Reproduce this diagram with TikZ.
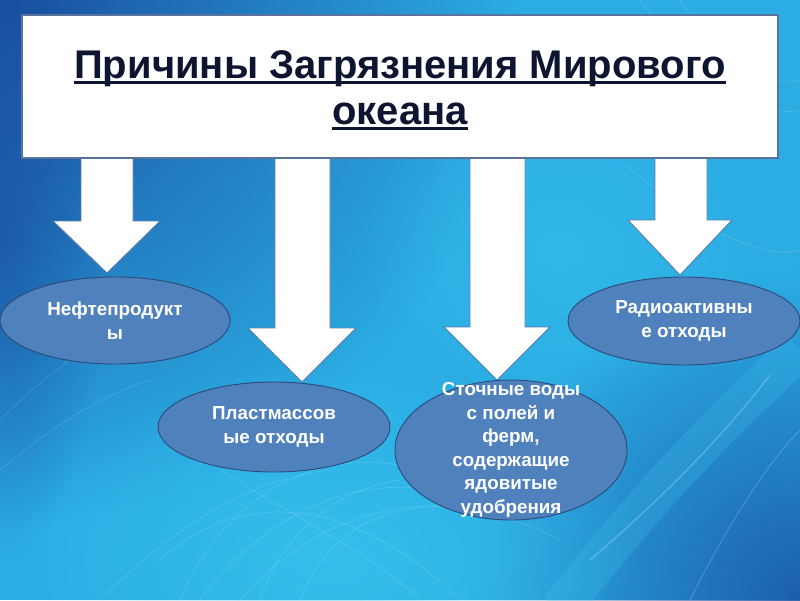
\documentclass[tikz,border=0pt]{standalone}
\usepackage{fontspec}
\setmainfont{Liberation Sans}
\usetikzlibrary{shapes.geometric,fadings}
\definecolor{bgbase}{HTML}{2BADE4}
\definecolor{bgdark}{HTML}{1A4E9F}
\definecolor{bgdark2}{HTML}{1B56A6}
\definecolor{bglight}{HTML}{3CCAF2}
\definecolor{ellfill}{HTML}{4F81BD}
\definecolor{elldraw}{HTML}{2C4A78}
\definecolor{arrdraw}{HTML}{5C7AA6}
\definecolor{boxdraw}{HTML}{5A7399}
\definecolor{titlecol}{HTML}{0D1530}
\tikzfading[name=radfade, inner color=transparent!0, outer color=transparent!100]
\newcommand\bkarrow[7]{%
  \draw[arr] (#1,150) -- (#2,150) -- (#2,#5) -- (#4,#5) -- (#6,#7) -- (#3,#5) -- (#1,#5) -- cycle;}
\begin{document}
\begin{tikzpicture}[x=1pt,y=-1pt,
  arr/.style={fill=white, draw=arrdraw, line width=0.9pt, line join=miter},
  ell/.style={ellipse, fill=ellfill, draw=elldraw, line width=0.9pt, inner sep=0pt},
  etext/.style={text=white, align=center, font=\fontsize{18.8}{23.5}\selectfont\bfseries},
  ttl/.style={text=titlecol, inner sep=0pt, font=\fontsize{40}{46}\selectfont\bfseries},
  uline/.style={draw=titlecol, line width=2.6pt},
  swirl/.style={draw=white, line width=0.6pt, opacity=0.16}]
\useasboundingbox (0,0) rectangle (800,600);
% background
\fill[bgbase] (0,0) rectangle (800,600);
\begin{scope}
\clip (0,0) rectangle (800,600);
\fill[bgdark, path fading=radfade] (0,0) circle[radius=520];
\fill[bgdark, path fading=radfade, opacity=0.7] (0,230) ellipse[x radius=110, y radius=330];
\fill[bgdark2, path fading=radfade, opacity=0.9] (800,600) circle[radius=330];
\fill[bglight, path fading=radfade, opacity=0.6] (330,560) ellipse[x radius=320, y radius=200];
\fill[bglight, path fading=radfade, opacity=0.4] (560,250) ellipse[x radius=200, y radius=160];
\draw[bglight, line width=40pt, opacity=0.22] (560,610) .. controls (630,520) and (700,440) .. (800,350);
\draw[draw=white, opacity=0.25, line width=1.2pt] (590,560) .. controls (660,500) and (720,440) .. (770,375);
\draw[draw=white, opacity=0.18, line width=1pt] (690,600) .. controls (730,520) and (770,460) .. (800,430);
% swirls
\draw[swirl] (180,600) .. controls (220,500) and (320,440) .. (420,470);
\draw[swirl] (200,600) .. controls (260,520) and (360,460) .. (470,500);
\draw[swirl] (240,600) .. controls (300,530) and (400,480) .. (520,520);
\draw[swirl] (300,600) .. controls (330,520) and (420,470) .. (560,540);
\draw[swirl] (160,560) .. controls (260,470) and (380,520) .. (460,600);
\draw[swirl] (220,470) .. controls (300,520) and (380,560) .. (420,600);
\draw[swirl] (100,600) .. controls (160,540) and (240,480) .. (330,470);
\draw[swirl] (260,600) .. controls (280,540) and (330,490) .. (400,480);
\draw[swirl] (640,0) .. controls (700,80) and (760,120) .. (800,110);
\draw[swirl] (680,0) .. controls (720,60) and (770,90) .. (800,80);
\draw[swirl] (620,160) .. controls (700,230) and (760,260) .. (800,250);
\draw[swirl] (0,420) .. controls (40,380) and (80,350) .. (120,330);
\draw[swirl] (0,470) .. controls (50,430) and (90,400) .. (150,380);
\end{scope}
% arrows
\bkarrow{81}{133}{53}{160}{221}{107}{273}
\bkarrow{275}{330}{248}{356}{328}{302}{382}
\bkarrow{470}{525}{444}{550}{327}{497}{380}
\bkarrow{655}{707}{628}{732}{220}{680}{275}
% title box
\node[fill=white, draw=boxdraw, line width=1.2pt, minimum width=756pt, minimum height=143pt, inner sep=0pt] (box) at (400,86.5) {};
\node[ttl, anchor=base] (t1) at (400,78) {Причины Загрязнения Мирового};
\node[ttl, anchor=base] (t2) at (400,124) {океана};
\draw[uline] ([yshift=-4.5pt]t1.base west) -- ([yshift=-4.5pt]t1.base east);
\draw[uline] ([yshift=-4.5pt]t2.base west) -- ([yshift=-4.5pt]t2.base east);
% ellipses
\node[ell, minimum width=230pt, minimum height=87pt] (e1) at (115,320.5) {};
\node[etext] at (e1.center) {Нефтепродукт\\ы};
\node[ell, minimum width=232pt, minimum height=90pt] (e2) at (274,427) {};
\node[etext] at (e2.center) {Пластмассов\\ые отходы};
\node[ell, minimum width=232pt, minimum height=140pt] (e3) at (511,450) {};
\node[etext] at (e3.center) {Сточные воды\\с полей и\\ферм,\\содержащие\\ядовитые\\удобрения};
\node[ell, minimum width=232pt, minimum height=88pt] (e4) at (684,321) {};
\node[etext] at (e4.center) {Радиоактивны\\е отходы};
\end{tikzpicture}
\end{document}
